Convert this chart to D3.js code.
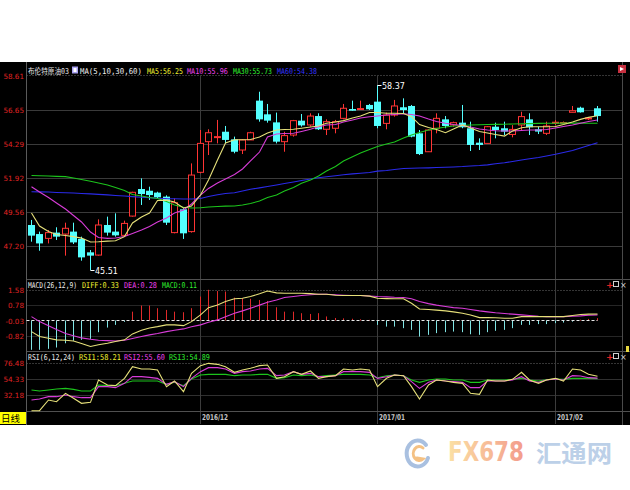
<!DOCTYPE html>
<html><head><meta charset="utf-8">
<script src="https://cdn.jsdelivr.net/npm/d3@7"></script>
<style>html,body{margin:0;padding:0;background:#fff;}svg{display:block}</style>
</head><body>
<script>
// ---------- data ----------
const opens = [48.66,48.03,47.73,48.13,48.03,48.20,47.69,46.76,46.57,48.66,
 48.20,47.94,49.28,51.16,51.04,50.91,50.63,48.13,49.75,48.20,
 52.32,54.45,54.73,55.14,54.61,53.87,54.57,57.30,56.35,55.79,
 54.45,54.91,55.91,55.61,56.23,55.31,55.38,56.07,56.72,56.70,
 57.00,57.23,55.72,56.30,56.84,56.93,55.03,53.75,55.38,56.00,
 55.61,55.77,55.38,54.38,54.33,55.49,55.38,54.95,55.61,56.00,
 55.31,55.03,55.73,55.75,56.49,56.81,56.05,56.77];
const highs = [49.01,48.20,48.31,48.50,48.82,48.82,47.85,46.92,49.05,49.24,
 49.47,48.96,50.97,51.90,51.32,50.97,50.72,50.51,49.82,52.94,
 55.26,55.31,55.96,55.54,54.80,54.61,55.14,57.92,57.07,56.47,
 55.14,55.96,56.37,56.42,56.42,56.00,55.96,57.07,57.30,57.30,
 57.07,58.37,56.47,57.35,57.46,57.00,55.26,55.31,56.42,56.23,
 55.84,57.00,55.84,54.68,55.54,55.77,55.84,55.60,56.53,56.42,
 55.49,55.84,55.95,55.85,56.93,56.88,56.15,56.93];
const lows = [47.50,46.87,47.38,47.62,46.53,47.34,46.18,45.51,46.53,47.92,
 47.85,47.94,49.24,50.05,50.40,50.51,48.66,48.08,47.69,48.13,
 52.25,53.52,54.33,54.33,53.64,53.59,54.57,55.84,55.77,54.33,
 53.75,54.80,55.49,55.49,55.26,54.91,55.03,56.00,56.60,56.67,
 56.65,55.38,55.31,56.19,56.42,54.75,53.52,53.75,55.03,55.38,
 55.49,55.38,53.80,53.87,54.33,54.68,54.91,54.75,55.26,54.91,
 54.98,54.91,55.60,55.70,56.49,56.47,55.95,55.84];
const closes = [47.92,47.38,48.13,47.85,48.43,47.45,46.41,46.53,48.66,48.13,
 47.94,48.77,50.93,50.81,50.74,50.58,48.82,50.21,48.08,52.13,
 54.33,55.07,54.80,54.57,53.75,54.57,55.07,56.00,55.91,54.45,
 54.87,55.91,55.58,56.23,55.31,55.84,55.84,56.77,56.60,56.75,
 56.70,55.54,56.30,56.93,56.65,54.80,53.59,55.26,56.07,55.54,
 55.77,55.45,54.22,54.22,55.49,55.26,55.15,55.30,56.19,55.45,
 55.15,55.54,55.80,55.78,56.60,56.49,56.10,56.23];

const ma5 = [49.49,48.59,48.21,48.00,47.93,47.85,47.75,47.48,47.50,47.54,
 47.57,47.85,48.80,49.22,49.49,50.36,50.39,50.26,49.84,49.98,
 50.74,51.79,53.18,54.36,54.58,54.58,54.60,54.77,55.05,55.26,
 55.30,55.31,55.38,55.47,55.54,55.73,55.82,55.91,56.09,56.23,
 56.48,56.48,56.42,56.42,56.41,56.19,55.64,55.43,55.30,55.07,
 55.33,55.61,55.40,55.16,55.05,54.95,54.84,55.19,55.42,55.49,
 55.49,55.49,55.50,55.64,55.82,56.00,56.14,56.25];
const ma10 = [51.32,50.95,50.57,50.19,49.77,49.32,48.87,48.17,47.79,47.73,
 47.76,47.86,48.07,48.31,48.56,48.87,49.14,49.49,49.70,50.12,
 50.74,51.20,51.58,51.86,52.17,52.55,53.11,53.73,54.77,54.98,
 55.02,55.03,55.16,55.31,55.49,55.61,55.64,55.82,55.96,56.09,
 56.18,56.23,56.30,56.34,56.39,56.34,56.23,56.02,55.85,55.73,
 55.64,55.57,55.47,55.33,55.26,55.21,55.19,55.19,55.23,55.26,
 55.26,55.30,55.40,55.50,55.61,55.73,55.85,55.96];
const ma30 = [52.10,52.08,52.06,52.04,52.02,51.92,51.82,51.70,51.58,51.44,
 51.26,51.06,50.78,50.67,50.57,50.50,50.29,50.05,49.89,49.84,
 49.86,49.91,49.94,49.97,49.98,50.05,50.15,50.33,50.57,50.74,
 51.02,51.27,51.56,51.79,52.06,52.41,52.72,53.11,53.40,53.66,
 53.91,54.11,54.29,54.43,54.70,54.91,55.09,55.26,55.36,55.47,
 55.54,55.57,55.61,55.62,55.64,55.65,55.66,55.68,55.69,55.70,
 55.72,55.73,55.73,55.74,55.74,55.74,55.73,55.73];
const ma60 = [50.97,50.96,50.95,50.92,50.90,50.88,50.85,50.82,50.79,50.75,
 50.71,50.67,50.63,50.59,50.56,50.52,50.49,50.48,50.47,50.47,
 50.50,50.64,50.76,50.85,50.90,51.02,51.14,51.24,51.34,51.44,
 51.54,51.65,51.75,51.86,51.94,52.01,52.08,52.15,52.21,52.26,
 52.31,52.40,52.45,52.52,52.59,52.60,52.62,52.63,52.65,52.67,
 52.69,52.72,52.76,52.79,52.84,52.91,52.98,53.07,53.18,53.26,
 53.35,53.45,53.57,53.70,53.84,54.01,54.18,54.38];

const diff = [-0.59,-0.85,-0.94,-1.02,-1.04,-1.08,-1.21,-1.37,-1.28,-1.20,
 -1.11,-1.02,-0.71,-0.52,-0.40,-0.33,-0.24,-0.24,-0.28,-0.07,
 0.28,0.66,0.80,0.98,1.12,1.15,1.24,1.38,1.53,1.43,
 1.41,1.41,1.41,1.39,1.36,1.36,1.31,1.29,1.29,1.29,
 1.26,1.15,1.13,1.12,1.12,0.89,0.59,0.56,0.53,0.49,
 0.44,0.37,0.28,0.14,0.14,0.13,0.11,0.11,0.19,0.19,
 0.19,0.19,0.19,0.19,0.25,0.30,0.32,0.33];
const dea = [0.19,-0.07,-0.28,-0.48,-0.69,-0.81,-0.92,-0.99,-1.04,-1.06,
 -1.08,-1.04,-0.95,-0.85,-0.76,-0.69,-0.59,-0.52,-0.45,-0.34,
 -0.24,-0.10,0.02,0.19,0.37,0.49,0.63,0.79,0.94,1.06,
 1.19,1.24,1.29,1.33,1.36,1.36,1.33,1.31,1.29,1.29,
 1.27,1.24,1.22,1.20,1.19,1.12,0.98,0.87,0.79,0.72,
 0.66,0.63,0.56,0.49,0.44,0.39,0.35,0.32,0.28,0.25,
 0.21,0.19,0.19,0.19,0.21,0.23,0.26,0.28];
const macd = [-1.54,-1.54,-1.49,-1.42,-1.20,-1.07,-1.02,-0.97,-0.62,-0.38,
 -0.24,-0.08,0.45,0.77,0.77,0.63,0.54,0.45,0.42,0.63,
 1.24,1.59,1.53,1.50,1.18,1.15,1.12,1.06,1.01,0.68,
 0.45,0.45,0.37,0.33,0.37,0.20,0.12,0.10,0.08,0.05,
 0.02,-0.24,-0.33,-0.33,-0.41,-0.50,-0.85,-0.76,-0.67,-0.62,
 -0.59,-0.62,-0.73,-0.76,-0.62,-0.55,-0.50,-0.41,-0.24,-0.24,
 -0.20,-0.20,-0.15,-0.12,-0.07,0.03,0.07,0.11];

const rsi1 = [10.48,10.48,25.25,22.94,34.48,27.56,20.64,22.02,52.94,46.02,
 45.10,55.25,71.40,68.17,68.17,66.79,43.71,51.56,36.79,62.17,
 72.79,76.02,74.63,71.40,63.56,66.79,69.09,72.79,73.71,55.25,
 57.56,64.48,60.79,65.40,55.25,57.56,58.94,68.17,66.79,68.17,
 66.79,43.71,55.25,59.87,58.94,43.71,26.64,46.02,52.94,51.56,
 49.71,48.33,34.48,33.10,52.94,51.56,51.56,53.87,63.56,52.94,
 48.33,52.94,55.25,51.56,68.17,66.79,60.79,58.21];
const rsi2 = [25.25,26.64,29.87,29.87,32.18,29.87,28.48,28.48,43.71,43.71,
 42.33,48.33,57.56,57.56,56.64,55.25,46.94,50.64,43.71,55.25,
 64.48,70.02,70.02,68.17,62.17,64.48,65.40,68.17,69.09,58.94,
 59.87,64.48,60.79,62.17,57.56,57.56,58.94,64.48,64.48,64.48,
 63.56,55.25,57.56,59.87,58.94,50.64,41.40,49.71,52.94,51.56,
 50.64,49.71,42.33,42.33,51.56,51.56,51.56,52.94,57.56,51.56,
 49.71,52.94,54.33,52.94,58.94,58.48,56.17,55.60];
const rsi3 = [39.10,37.71,39.10,40.48,41.40,40.02,37.71,37.71,46.02,45.10,
 45.10,48.33,51.56,51.56,51.56,51.56,46.94,49.71,45.10,54.33,
 59.87,60.79,60.79,60.79,58.94,59.87,59.87,60.79,60.79,55.25,
 56.17,59.87,58.94,59.87,57.56,58.94,59.87,60.79,60.79,60.79,
 59.87,56.17,58.94,59.87,58.94,52.94,49.71,52.94,54.33,54.33,
 52.94,52.94,49.71,49.71,52.94,52.94,52.94,53.87,55.25,52.94,
 51.56,53.40,54.33,53.87,55.25,55.25,55.25,54.89];

const priceTicks = [47.20, 49.56, 51.92, 54.29, 56.65, 58.61];
const macdTicks = [-0.82, -0.03, 0.78, 1.58];
const rsiTicks = [32.18, 54.33, 76.48];
const dateTickIndex = [20, 41, 62];
const dateTickLabels = ["2016/12", "2017/01", "2017/02"];

// ---------- drawing ----------
const W = 630, H = 490;
const n = closes.length;
const svg = d3.select("body").append("svg").attr("width", W).attr("height", H);
svg.append("rect").attr("width", W).attr("height", H).attr("fill", "#fff");
svg.append("rect").attr("x", 0).attr("y", 62).attr("width", W).attr("height", 363).attr("fill", "#000");

const mono = "'DejaVu Sans Mono','Noto Sans CJK SC',monospace";
const x = d3.scaleBand().domain(d3.range(n)).range([26.5, 26.5 + n * 8.45]);
const cx = i => Math.round(x(i) + x.bandwidth() / 2) + 0.5;
const yP = d3.scaleLinear().domain([47.20, 56.65]).range([246, 110]);
const yM = d3.scaleLinear().domain([-0.82, 1.58]).range([336, 290]);
const yR = d3.scaleLinear().domain([32.18, 76.48]).range([395, 363]);

// text squeezed horizontally to a given width (so its real box is that width)
function fitText(xx, yy, w, t, attrs) {
  const el = svg.append("text").attr("x", 0).attr("y", 0).text(t);
  Object.entries(attrs).forEach(([k, v]) => el.attr(k, v));
  const len = el.node().getComputedTextLength() || w;
  el.attr("transform", `translate(${xx},${yy}) scale(${w / len},1)`);
  return el;
}

const L = 26.5, R = 622.5;
priceTicks.slice(0, -1).forEach(t => {
  svg.append("line").attr("x1", L).attr("x2", R).attr("y1", Math.round(yP(t)) + 0.5).attr("y2", Math.round(yP(t)) + 0.5)
    .attr("stroke", "#3a3a3a");
});
[75.5, Math.round(yM(1.58)) + 0.5, Math.round(yR(76.48)) + 0.5].forEach(yy => {
  svg.append("line").attr("x1", L).attr("x2", R).attr("y1", yy).attr("y2", yy)
    .attr("stroke", "#6a6a6a").attr("stroke-dasharray", "1,2");
});
[0.78, -0.82].forEach(t => svg.append("line").attr("x1", L).attr("x2", R)
  .attr("y1", Math.round(yM(t)) + 0.5).attr("y2", Math.round(yM(t)) + 0.5).attr("stroke", "#262626"));
[54.33, 32.18].forEach(t => svg.append("line").attr("x1", L).attr("x2", R)
  .attr("y1", Math.round(yR(t)) + 0.5).attr("y2", Math.round(yR(t)) + 0.5).attr("stroke", "#303030"));

dateTickIndex.forEach((i, k) => {
  const xv = cx(i);
  svg.append("line").attr("x1", xv).attr("x2", xv).attr("y1", 76).attr("y2", 424).attr("stroke", "#3c3c3c");
  fitText(xv + 1.5, 420, 26, dateTickLabels[k], {"fill": "#c8c8c8", "font-family": "'DejaVu Sans',sans-serif",
    "font-size": 8, "font-weight": "bold"});
});

[279.5, 351.5, 411.5].forEach(yy => svg.append("line").attr("x1", L).attr("x2", W).attr("y1", yy).attr("y2", yy).attr("stroke", "#505050"));
svg.append("line").attr("x1", L).attr("x2", L).attr("y1", 62).attr("y2", 425).attr("stroke", "#5a5a5a");
svg.append("line").attr("x1", R).attr("x2", R).attr("y1", 62).attr("y2", 425).attr("stroke", "#4a4a4a");

const axLab = (yy, t) => svg.append("text").attr("x", 24).attr("y", yy + 3).attr("text-anchor", "end")
  .attr("fill", "#e02424").attr("font-family", "'DejaVu Sans',sans-serif").attr("font-size", 7.2).text(t);
priceTicks.forEach((t, k) => axLab(k === priceTicks.length - 1 ? 76 : yP(t), t.toFixed(2)));
macdTicks.forEach(t => axLab(yM(t), t.toFixed(2)));
rsiTicks.forEach(t => axLab(yR(t), t.toFixed(2)));

// candles
const cg = svg.append("g");
d3.range(n).forEach(i => {
  const up = closes[i] >= opens[i];
  const col = up ? "#ff3434" : "#54ffff";
  const xc = cx(i);
  cg.append("line").attr("x1", xc).attr("x2", xc).attr("y1", yP(highs[i])).attr("y2", yP(lows[i])).attr("stroke", col);
  const yt = yP(Math.max(opens[i], closes[i])), yb = yP(Math.min(opens[i], closes[i]));
  const h = Math.max(1, yb - yt);
  if (up) cg.append("rect").attr("x", xc - 3).attr("y", yt).attr("width", 6).attr("height", h)
    .attr("fill", "#000").attr("stroke", col);
  else cg.append("rect").attr("x", xc - 3.5).attr("y", yt).attr("width", 7).attr("height", h).attr("fill", col);
});

const lineP = d3.line().x((d, i) => cx(i)).y(d => yP(d));
[[ma60, "#2a2ae8"], [ma30, "#1cc41c"], [ma10, "#d83cd8"], [ma5, "#e6e07a"]].forEach(([s, c]) =>
  svg.append("path").attr("d", lineP(s)).attr("fill", "none").attr("stroke", c).attr("stroke-width", 1.1));

const hi = d3.maxIndex(highs), lo = d3.minIndex(lows);
[[hi, highs[hi]], [lo, lows[lo]]].forEach(([i, v]) => {
  const xx = cx(i), yy = Math.round(yP(v)) + 0.5;
  svg.append("line").attr("x1", xx).attr("x2", xx + 4).attr("y1", yy).attr("y2", yy).attr("stroke", "#fff");
  svg.append("text").attr("x", xx + 4.5).attr("y", yy + 3).attr("fill", "#fff")
    .attr("font-family", "'DejaVu Sans',sans-serif").attr("font-size", 8).text(v.toFixed(2));
});

// MACD
const z = Math.round(yM(0)) + 0.5;
d3.range(n).forEach(i => {
  svg.append("line").attr("x1", cx(i)).attr("x2", cx(i)).attr("y1", z).attr("y2", yM(macd[i]))
    .attr("stroke", macd[i] >= 0 ? "#e02a2a" : "#80e4e4");
});
svg.append("line").attr("x1", L).attr("x2", cx(n - 1)).attr("y1", z).attr("y2", z)
  .attr("stroke", "#e8e8e8").attr("stroke-dasharray", "3,2");
const lineM = d3.line().x((d, i) => cx(i)).y(d => yM(d));
svg.append("path").attr("d", lineM(dea)).attr("fill", "none").attr("stroke", "#d83cd8").attr("stroke-width", 1.1);
svg.append("path").attr("d", lineM(diff)).attr("fill", "none").attr("stroke", "#e6e07a").attr("stroke-width", 1.1);

// RSI
const lineR = d3.line().x((d, i) => cx(i)).y(d => yR(d));
[[rsi3, "#1cc41c"], [rsi2, "#d83cd8"], [rsi1, "#e6e07a"]].forEach(([s, c]) =>
  svg.append("path").attr("d", lineR(s)).attr("fill", "none").attr("stroke", c).attr("stroke-width", 1.1));

// titles
function seg(xx, yy, w, t, c) {
  fitText(xx, yy, w, t, {"fill": c, "font-family": mono, "font-size": 8});
}
seg(28, 74, 41, "布伦特原油03", "#e8e8e8");
svg.append("rect").attr("x", 72).attr("y", 66.5).attr("width", 6).attr("height", 7).attr("fill", "#a8a0f0");
svg.append("rect").attr("x", 73.5).attr("y", 68).attr("width", 3).attr("height", 4).attr("fill", "#fff");
seg(80, 74, 62, "MA(5,10,30,60)", "#f0f0f0");
seg(147, 74, 36, "MA5:" + ma5[n - 1].toFixed(2), "#f0f030");
seg(187, 74, 41, "MA10:" + ma10[n - 1].toFixed(2), "#f040f0");
seg(233, 74, 39, "MA30:" + ma30[n - 1].toFixed(2), "#30f030");
seg(277, 74, 40, "MA60:" + ma60[n - 1].toFixed(2), "#3434ff");

seg(28, 288, 49, "MACD(26,12,9)", "#f0f0f0");
seg(82, 288, 37, "DIFF:" + diff[n - 1].toFixed(2), "#f0f030");
seg(124, 288, 33, "DEA:" + dea[n - 1].toFixed(2), "#f040f0");
seg(162, 288, 35, "MACD:" + macd[n - 1].toFixed(2), "#30f030");

seg(28, 360, 47, "RSI(6,12,24)", "#f0f0f0");
seg(79, 360, 42, "RSI1:" + rsi1[n - 1].toFixed(2), "#f0f030");
seg(124, 360, 41, "RSI2:" + rsi2[n - 1].toFixed(2), "#f040f0");
seg(169, 360, 41, "RSI3:" + rsi3[n - 1].toFixed(2), "#30f030");

// right-side widgets
svg.append("rect").attr("x", 618).attr("y", 65).attr("width", 8).attr("height", 8).attr("fill", "#c83040");
svg.append("path").attr("d", "M620,67 L624,69 L620,71 Z").attr("fill", "#fff");
[285, 357].forEach(yy => {
  svg.append("text").attr("x", 606).attr("y", yy + 3).attr("fill", "#e02020").attr("font-size", 9)
    .attr("font-family", "'DejaVu Sans',sans-serif").attr("font-weight", "bold").text("+");
  svg.append("rect").attr("x", 613.5).attr("y", yy - 3.5).attr("width", 5).attr("height", 5)
    .attr("fill", "none").attr("stroke", "#cfcfcf");
  svg.append("text").attr("x", 620).attr("y", yy + 3).attr("fill", "#cfcfcf").attr("font-size", 8)
    .attr("font-family", "'DejaVu Sans',sans-serif").text("×");
});
svg.append("rect").attr("x", 626).attr("y", 346).attr("width", 3).attr("height", 6).attr("fill", "#e8d840");

// bottom-left "日线"
svg.append("rect").attr("x", 0).attr("y", 412).attr("width", 26).attr("height", 12).attr("fill", "#ffff00");
svg.append("text").attr("x", 1).attr("y", 422).attr("fill", "#000").attr("font-size", 9.5)
  .attr("font-family", "'Noto Sans CJK SC',sans-serif").text("日线");

// watermark
const defs = svg.append("defs");
const gr = defs.append("linearGradient").attr("id", "wm").attr("x1", "0").attr("x2", "1").attr("y1", "0").attr("y2", "0");
gr.append("stop").attr("offset", "0%").attr("stop-color", "#fbe0a4");
gr.append("stop").attr("offset", "100%").attr("stop-color", "#f39c8c");
svg.append("path").attr("d", "M426,445 A11,13 0 1 0 428,458").attr("fill", "none")
  .attr("stroke", "#a9c0e0").attr("stroke-width", 4).attr("stroke-linecap", "round");
svg.append("path").attr("d", "M423,448 A6,7 0 1 0 423,459 L417,458").attr("fill", "none")
  .attr("stroke", "#f4c184").attr("stroke-width", 3).attr("stroke-linecap", "round");
fitText(448, 461, 76, "FX678", {"fill": "url(#wm)", "font-size": 26, "font-family": "'DejaVu Sans',sans-serif",
  "font-weight": "bold"});
fitText(536, 462, 76, "汇通网", {"fill": "#bcd0e8", "font-size": 24, "font-family": "'Noto Sans CJK SC',sans-serif",
  "font-weight": "bold"});
</script>
</body></html>
